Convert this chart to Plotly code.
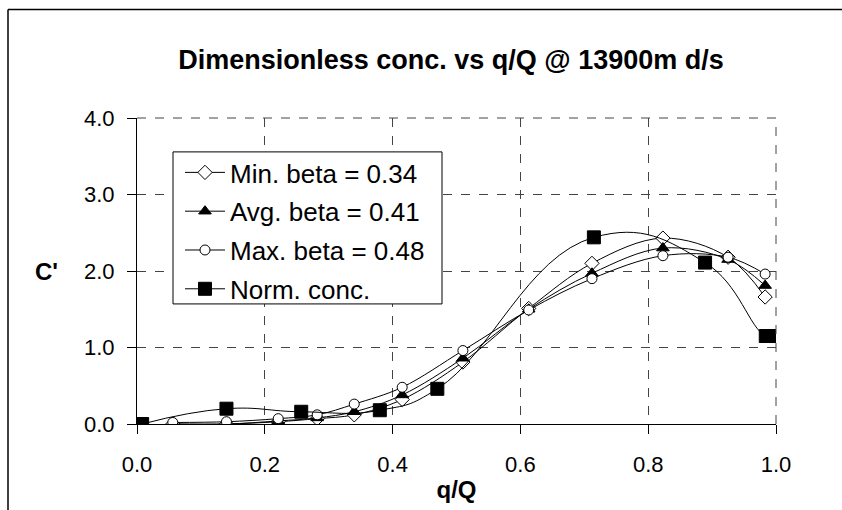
import plotly.graph_objects as go

beta_x = [0.056, 0.14, 0.221, 0.282, 0.34, 0.415, 0.51, 0.613, 0.712, 0.823, 0.925, 0.983]
min_beta = [0.0, 0.0, 0.03, 0.07, 0.12, 0.32, 0.81, 1.51, 2.10, 2.43, 2.18, 1.66]
avg_beta = [0.0, 0.0, 0.04, 0.08, 0.16, 0.38, 0.86, 1.50, 1.97, 2.30, 2.15, 1.81]
max_beta = [0.02, 0.03, 0.07, 0.12, 0.26, 0.48, 0.96, 1.49, 1.90, 2.20, 2.18, 1.96]
norm_x = [0.008, 0.14, 0.257, 0.38, 0.47, 0.715, 0.889, 0.984, 1.0]
norm_c = [0.0, 0.20, 0.16, 0.18, 0.46, 2.44, 2.11, 1.15, 1.15]

names = ["Min. beta = 0.34", "Avg. beta = 0.41", "Max. beta = 0.48", "Norm. conc."]
FONT = "Liberation Sans, Arial, sans-serif"

fig = go.Figure()
line = dict(color="black", width=1, shape="spline", smoothing=1.0)
fig.add_trace(go.Scatter(x=beta_x, y=min_beta, name=names[0], mode="lines+markers", line=line,
                         legendgroup="a",
                         marker=dict(symbol="diamond", size=11, color="white", line=dict(color="black", width=1))))
fig.add_trace(go.Scatter(x=beta_x, y=avg_beta, name=names[1], mode="lines+markers", line=line,
                         legendgroup="b",
                         marker=dict(symbol="triangle-up", size=11, color="black", line=dict(color="black", width=1))))
fig.add_trace(go.Scatter(x=beta_x, y=max_beta, name=names[2], mode="lines+markers", line=line,
                         legendgroup="c",
                         marker=dict(symbol="circle", size=10, color="white", line=dict(color="black", width=1))))
fig.add_trace(go.Scatter(x=norm_x, y=norm_c, name=names[3], mode="lines+markers",
                         line=dict(color="black", width=1, shape="spline", smoothing=1.3),
                         legendgroup="d",
                         marker=dict(symbol="square", size=13, color="black", line=dict(color="black", width=1))))

ml, mr, mt, mb = 137, 66, 118, 76
pw, ph = 842 - ml - mr, 510 - mt - mb

def px(xp):
    return (xp - ml) / pw

def py(yp):
    return (510 - mb - yp) / ph

fig.update_layout(
    width=842, height=510,
    margin=dict(l=ml, r=mr, t=mt, b=mb),
    paper_bgcolor="white", plot_bgcolor="white",
    font=dict(family=FONT, color="black", size=22),
    title=dict(text="<b>Dimensionless conc. vs q/Q @ 13900m d/s</b>", xref="container", x=451 / 842,
               xanchor="center", yref="container", y=(510 - 60) / 510, yanchor="middle",
               font=dict(size=27, family=FONT, color="black")),
    showlegend=True,
    legend=dict(x=px(180), y=py(150), xanchor="left", yanchor="top",
                bgcolor="rgba(0,0,0,0)", borderwidth=0,
                font=dict(size=26, family=FONT, color="black"),
                traceorder="grouped", tracegroupgap=2, itemwidth=40),
    shapes=[
        dict(type="line", xref="paper", yref="paper", x0=px(8), x1=px(8), y0=py(6), y1=py(600),
             line=dict(color="black", width=1.5)),
        dict(type="line", xref="paper", yref="paper", x0=px(8), x1=px(950), y0=py(6), y1=py(6),
             line=dict(color="black", width=1.5)),
        dict(type="line", xref="paper", yref="paper", x0=0, x1=1, y0=1, y1=1,
             line=dict(color="#444", width=1, dash="dash")),
        dict(type="line", xref="paper", yref="paper", x0=1, x1=1, y0=0, y1=1,
             line=dict(color="#444", width=1, dash="dash")),
        dict(type="rect", xref="paper", yref="paper", x0=px(173), x1=px(442), y0=py(310), y1=py(153),
             fillcolor="white", line=dict(color="black", width=1), layer="above"),
    ],
    annotations=[dict(text="<b>C'</b>", xref="paper", yref="paper", x=px(46), y=py(276),
                      xanchor="center", yanchor="middle", showarrow=False,
                      font=dict(size=24, family=FONT, color="black"))],
)
fig.update_xaxes(range=[0, 1.0], tickvals=[0, 0.2, 0.4, 0.6, 0.8, 1.0],
                 ticktext=["0.0", "0.2", "0.4", "0.6", "0.8", "1.0"],
                 showgrid=True, gridcolor="#444", griddash="dash", gridwidth=1,
                 showline=True, linecolor="black", linewidth=1,
                 ticks="outside", ticklen=9, tickcolor="black", ticklabelstandoff=12,
                 zeroline=False, tickfont=dict(size=22),
                 title=dict(text="<b>q/Q</b>", font=dict(size=24), standoff=4))
fig.update_yaxes(range=[0, 4.0], tickvals=[0, 1, 2, 3, 4],
                 ticktext=["0.0", "1.0", "2.0", "3.0", "4.0"],
                 showgrid=True, gridcolor="#444", griddash="dash", gridwidth=1,
                 showline=True, linecolor="black", linewidth=1,
                 ticks="outside", ticklen=9, tickcolor="black", ticklabelstandoff=8,
                 zeroline=False, tickfont=dict(size=22))

fig.write_html("out.html")
